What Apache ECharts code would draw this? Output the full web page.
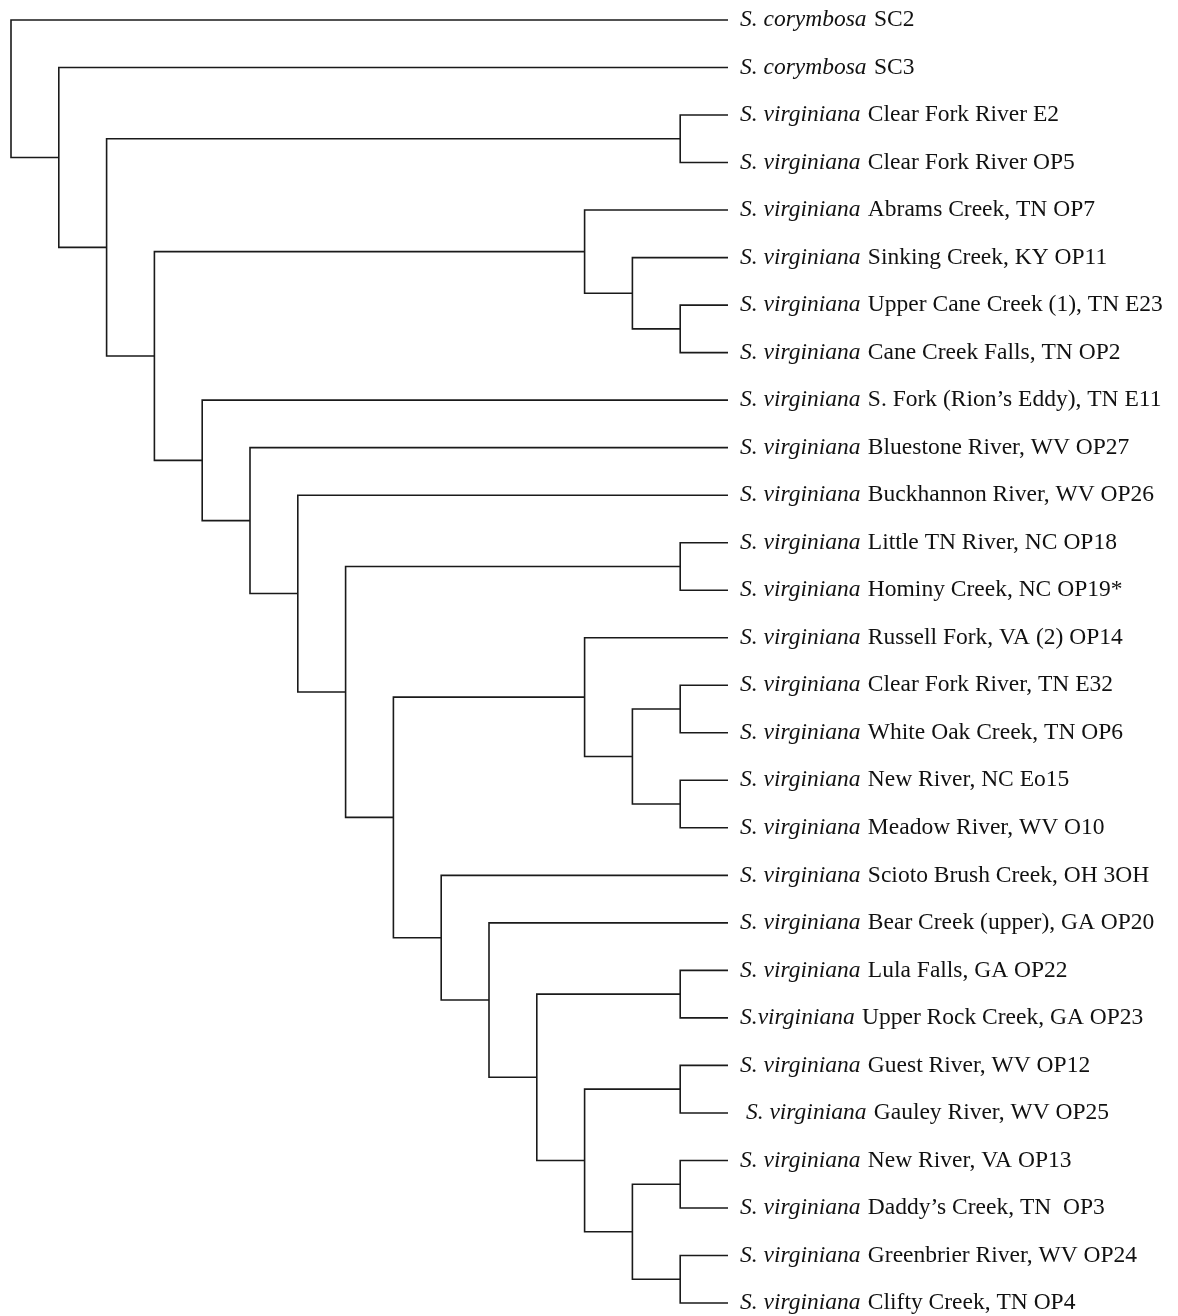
<!DOCTYPE html>
<html>
<head>
<meta charset="utf-8">
<script src="https://cdn.jsdelivr.net/npm/echarts@6/dist/echarts.min.js"></script>
<style>html,body{margin:0;padding:0;background:#fff;}#c{width:1178px;height:1316px;}</style>
</head>
<body>
<div id="c"></div>
<script>
// Leaf labels: italic species part and plain locality part
const speciesNames = [
  'S. corymbosa', 'S. corymbosa',
  'S. virginiana', 'S. virginiana', 'S. virginiana', 'S. virginiana', 'S. virginiana', 'S. virginiana',
  'S. virginiana', 'S. virginiana', 'S. virginiana', 'S. virginiana', 'S. virginiana', 'S. virginiana',
  'S. virginiana', 'S. virginiana', 'S. virginiana', 'S. virginiana', 'S. virginiana', 'S. virginiana',
  'S. virginiana', 'S.virginiana', 'S. virginiana', ' S. virginiana', 'S. virginiana', 'S. virginiana',
  'S. virginiana', 'S. virginiana'
];
const localities = [
  'SC2', 'SC3',
  'Clear Fork River E2', 'Clear Fork River OP5',
  'Abrams Creek, TN OP7', 'Sinking Creek, KY OP11', 'Upper Cane Creek (1), TN E23', 'Cane Creek Falls, TN OP2',
  'S. Fork (Rion\u2019s Eddy), TN E11', 'Bluestone River, WV OP27', 'Buckhannon River, WV OP26',
  'Little TN River, NC OP18', 'Hominy Creek, NC OP19*',
  'Russell Fork, VA (2) OP14', 'Clear Fork River, TN E32', 'White Oak Creek, TN OP6', 'New River, NC Eo15', 'Meadow River, WV O10',
  'Scioto Brush Creek, OH 3OH', 'Bear Creek (upper), GA OP20', 'Lula Falls, GA OP22', 'Upper Rock Creek, GA OP23',
  'Guest River, WV OP12', 'Gauley River, WV OP25', 'New River, VA OP13', 'Daddy\u2019s Creek, TN  OP3',
  'Greenbrier River, WV OP24', 'Clifty Creek, TN OP4'
];
// Tree topology (clades as pairs of leaf indices / sub-clades, top to bottom)
const cladeV = [[22, 23], [[24, 25], [26, 27]]];
const cladeT = [[20, 21], cladeV];
const cladeR = [18, [19, cladeT]];
const cladeN = [13, [[14, 15], [16, 17]]];
const cladeK = [[11, 12], [cladeN, cladeR]];
const cladeH = [8, [9, [10, cladeK]]];
const cladeE = [4, [5, [6, 7]]];
const topology = [0, [1, [[2, 3], [cladeE, cladeH]]]];

// Derive node heights (levels above the leaves) and vertical positions
const nodes = [];
function walk(t) {
  if (typeof t === 'number') return { h: 0, y: t };
  const a = walk(t[0]), b = walk(t[1]);
  const h = Math.max(a.h, b.h) + 1;
  const y = (a.y + b.y) / 2;
  nodes.push([h, y, a.y, b.y, a.h, b.h]);
  return { h: h, y: y };
}
const rootInfo = walk(topology);
const maxH = rootInfo.h;
const leafCats = localities.map(function (_, i) { return String(i); });

const chart = echarts.init(document.getElementById('c'), null, { renderer: 'canvas' });
chart.setOption({
  backgroundColor: '#ffffff',
  animation: false,
  grid: { left: 11, top: 20, width: 717, height: 1283, containLabel: false },
  xAxis: { type: 'value', min: 0, max: maxH, inverse: true, show: false },
  yAxis: [
    { type: 'value', min: 0, max: localities.length - 1, inverse: true, show: false },
    {
      type: 'category', data: leafCats, inverse: true, boundaryGap: false, position: 'right',
      axisLine: { show: false }, axisTick: { show: false }, splitLine: { show: false },
      axisLabel: {
        margin: 12, align: 'left', interval: 0,
        formatter: function (v) {
          const i = +v;
          return '{i|' + speciesNames[i] + '} {r|' + localities[i] + '}';
        },
        rich: {
          i: { fontFamily: 'Liberation Serif', fontStyle: 'italic', fontSize: 23.5, color: '#111', padding: [0, 4, 0, 0] },
          r: { fontFamily: 'Liberation Serif', fontSize: 23.5, color: '#111' }
        }
      }
    }
  ],
  series: [{
    type: 'custom',
    yAxisIndex: 0,
    data: nodes,
    renderItem: function (params, api) {
      const h = api.value(0), y0 = api.value(2), y1 = api.value(3), h0 = api.value(4), h1 = api.value(5);
      const pts = [api.coord([h0, y0]), api.coord([h, y0]), api.coord([h, y1]), api.coord([h1, y1])];
      return {
        type: 'polyline',
        shape: { points: pts },
        style: { stroke: '#1a1a1a', lineWidth: 1.6, fill: null }
      };
    }
  }]
});
</script>
</body>
</html>
